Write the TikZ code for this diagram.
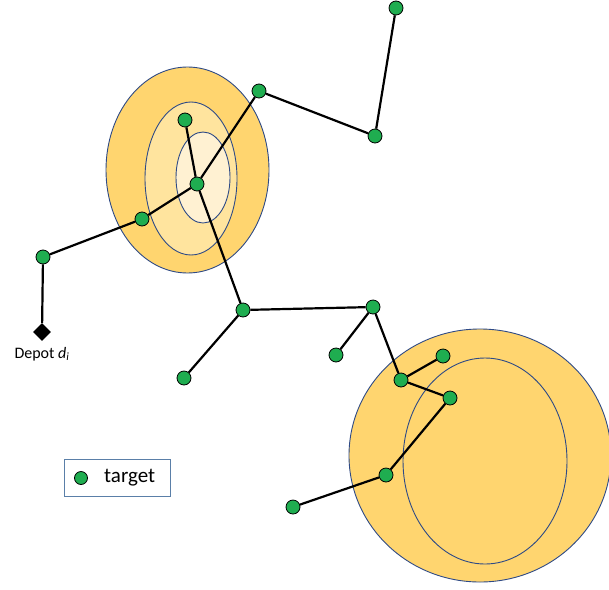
\documentclass[tikz,border=0pt]{standalone}
\usepackage{fontspec}
\setmainfont{Carlito}
\usetikzlibrary{shapes.geometric}
\definecolor{zoneout}{HTML}{FFD56F}
\definecolor{zonemid}{HTML}{FFE49E}
\definecolor{zonein}{HTML}{FFF1D2}
\definecolor{zoneline}{HTML}{2E4A86}
\definecolor{targetgreen}{HTML}{1FAD50}
\definecolor{legendline}{HTML}{5A7FA8}
\tikzset{x=1pt, y=-1pt,
    zone/.style={draw=zoneline, line width=0.9pt},
    target/.style={circle, draw=black, fill=targetgreen, line width=0.8pt,
        minimum size=14pt, inner sep=0pt},
    depot/.style={diamond, fill=black, minimum size=18pt, inner sep=0pt},
    route/.style={line width=2.2pt},
    }

\begin{document}
\begin{tikzpicture}
\useasboundingbox (0,0) rectangle (609,589);
\clip (0,0) rectangle (609,589);
% coverage zones
\draw[zone, fill=zoneout] (187.5,170) ellipse [x radius=81.5, y radius=103];
\draw[zone, fill=zonemid] (191,178.5) ellipse [x radius=46, y radius=76.5];
\draw[zone, fill=zonein] (203,177.5) ellipse [x radius=27, y radius=45.5];
\draw[zone, fill=zoneout] (480,455.5) ellipse [x radius=131, y radius=126.5];
\draw[zone, fill=zoneout] (485,461) ellipse [x radius=82, y radius=103];
% targets
\node[target] (t1) at (396,8) {};
\node[target] (t2) at (375,136) {};
\node[target] (t3) at (259,91) {};
\node[target] (t4) at (185,120) {};
\node[target] (t5) at (197,184) {};
\node[target] (t6) at (142,219) {};
\node[target] (t7) at (43,257) {};
\node[target] (t8) at (243,310) {};
\node[target] (t9) at (184,378) {};
\node[target] (t10) at (373,307) {};
\node[target] (t11) at (336,355) {};
\node[target] (t12) at (401,380) {};
\node[target] (t13) at (443,356) {};
\node[target] (t14) at (450,398) {};
\node[target] (t15) at (386,475) {};
\node[target] (t16) at (293,507) {};
\node[depot] (d) at (42,332) {};
\node[font=\fontsize{16}{18}\selectfont, inner sep=0pt] (dlabel) at (42,354) {Depot \textit{d}\textsubscript{\textit{i}}};
% tree
\draw[route] (t1) -- (t2) -- (t3) -- (t5) -- (t4);
\draw[route] (t5) -- (t6) -- (t7) -- (d);
\draw[route] (t5) -- (t8) -- (t9);
\draw[route] (t8) -- (t10) -- (t11);
\draw[route] (t10) -- (t12) -- (t13);
\draw[route] (t12) -- (t14) -- (t15) -- (t16);
% legend
\node[draw=legendline, line width=0.9pt, minimum width=106pt, minimum height=37pt] (legend) at (117,477.5) {};
\node[target, minimum size=13pt] (ldot) at (81,478) {};
\node[font=\fontsize{21}{24}\selectfont, anchor=west, inner sep=0pt] (ltext) at (104,478) {target};
\end{tikzpicture}
\end{document}
